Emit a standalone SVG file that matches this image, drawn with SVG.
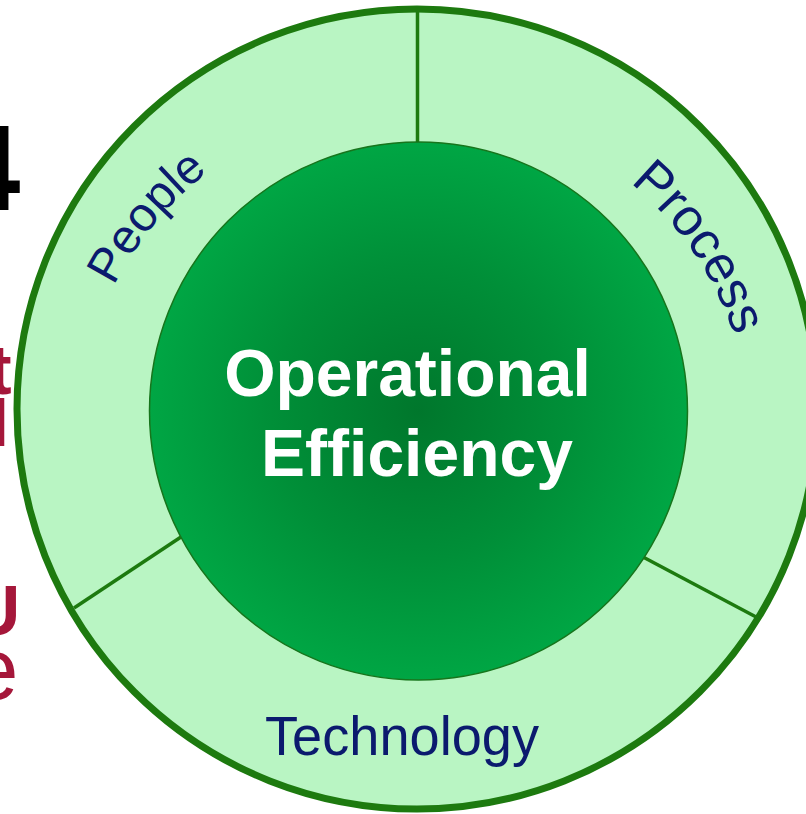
<svg xmlns="http://www.w3.org/2000/svg" width="806" height="814" viewBox="0 0 806 814">
  <style>
    .frag { font-family: "Liberation Sans", Arial, sans-serif; }
    .red { fill: #a5173a; }
    .label { font-family: "Liberation Sans", Arial, sans-serif; fill: #0b1a6e; }
    .center { font-family: "Liberation Sans", Arial, sans-serif; font-weight: bold; fill: #ffffff; font-size: 66px; text-anchor: middle; }
    .divider { stroke: #1d7a0f; stroke-width: 3.5; fill: none; }
  </style>
  <defs>
    <radialGradient id="coreGrad" cx="50%" cy="50%" r="50%">
      <stop offset="0" stop-color="#00772c"/>
      <stop offset="0.55" stop-color="#008f38"/>
      <stop offset="1" stop-color="#00a644"/>
    </radialGradient>
    <path id="peoplePath" d="M97.5,323.7 A340,340 0 0 1 247,145.6"/>
    <path id="processPath" d="M584,150.7 A334,334 0 0 1 751,440"/>
  </defs>
  <rect width="806" height="814" fill="#ffffff"/>
  <g id="background-fragments">
    <text class="frag" x="-48" y="210" font-size="123" font-weight="bold" fill="#000000">4</text>
    <text class="frag red" x="-12" y="394" font-size="71" font-weight="bold">t</text>
    <text class="frag red" x="-6" y="446" font-size="66">l</text>
    <text class="frag red" x="-31" y="635" font-size="71" font-weight="bold">U</text>
    <text class="frag red" x="-30" y="699" font-size="87">e</text>
  </g>
  <g id="ring">
    <circle cx="417" cy="409" r="400" fill="#b9f5c3" stroke="#1d7a0f" stroke-width="7"/>
  </g>
  <g id="connectors">
    <line class="divider" x1="417.5" y1="10" x2="417.5" y2="150"/>
    <line class="divider" x1="74" y1="608" x2="190" y2="531"/>
    <line class="divider" x1="635" y1="552.7" x2="758" y2="618"/>
  </g>
  <g id="people">
    <text class="label" font-size="48"><textPath href="#peoplePath" startOffset="41">People</textPath></text>
  </g>
  <g id="process">
    <text class="label" font-size="52"><textPath href="#processPath" startOffset="56">Process</textPath></text>
  </g>
  <g id="technology">
    <text class="label" x="265" y="755" font-size="55" textLength="274" lengthAdjust="spacingAndGlyphs">Technology</text>
  </g>
  <g id="operational-efficiency">
    <circle cx="418.5" cy="411" r="269" fill="url(#coreGrad)" stroke="#17751c" stroke-width="1.5"/>
    <text class="center" x="407.5" y="396">Operational</text>
    <text class="center" x="417" y="476">Efficiency</text>
  </g>
</svg>
